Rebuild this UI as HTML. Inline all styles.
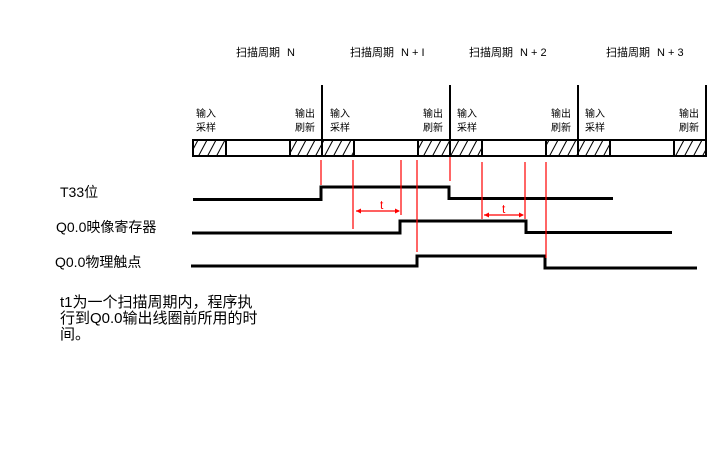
<!DOCTYPE html>
<html><head><meta charset="utf-8"><style>
html,body{margin:0;padding:0;background:#fff;width:720px;height:450px;overflow:hidden}
text{font-family:"Liberation Sans","WenQuanYi Zen Hei","Noto Sans CJK SC",sans-serif;fill:#000}
</style></head><body>
<svg width="720" height="450" viewBox="0 0 720 450" xmlns="http://www.w3.org/2000/svg">
<defs>
<pattern id="h" patternUnits="userSpaceOnUse" width="9" height="17" x="0" y="140">
<line x1="0" y1="17" x2="9" y2="0" stroke="#000" stroke-width="1"/>
</pattern>
</defs>
<!-- titles -->
<g font-size="11">
<text x="236" y="56">扫描周期</text><text x="287" y="56">N</text>
<text x="350" y="56">扫描周期</text><text x="401" y="56">N + I</text>
<text x="469" y="56">扫描周期</text><text x="520" y="56">N + 2</text>
<text x="606" y="56">扫描周期</text><text x="657" y="56">N + 3</text>
</g>
<!-- dividers -->
<g stroke="#000" stroke-width="2">
<line x1="322" y1="85" x2="322" y2="140"/>
<line x1="450" y1="85" x2="450" y2="140"/>
<line x1="578" y1="85" x2="578" y2="140"/>
<line x1="706" y1="85" x2="706" y2="140"/>
</g>
<!-- small labels -->
<g font-size="10">
<text x="196" y="117">输入</text><text x="196" y="131">采样</text>
<text x="295" y="117">输出</text><text x="295" y="131">刷新</text>
<text x="330" y="117">输入</text><text x="330" y="131">采样</text>
<text x="423" y="117">输出</text><text x="423" y="131">刷新</text>
<text x="457" y="117">输入</text><text x="457" y="131">采样</text>
<text x="551" y="117">输出</text><text x="551" y="131">刷新</text>
<text x="585" y="117">输入</text><text x="585" y="131">采样</text>
<text x="679" y="117">输出</text><text x="679" y="131">刷新</text>
</g>
<!-- bar -->
<g fill="url(#h)">
<rect x="193" y="140" width="33" height="16"/>
<rect x="290" y="140" width="64" height="16"/>
<rect x="418" y="140" width="64" height="16"/>
<rect x="546" y="140" width="64" height="16"/>
<rect x="674" y="140" width="32" height="16"/>
</g>
<rect x="193" y="140" width="513" height="16" fill="none" stroke="#000" stroke-width="2"/>
<g stroke="#000" stroke-width="2">
<line x1="226" y1="140" x2="226" y2="156"/>
<line x1="290" y1="140" x2="290" y2="156"/>
<line x1="322" y1="140" x2="322" y2="156"/>
<line x1="354" y1="140" x2="354" y2="156"/>
<line x1="418" y1="140" x2="418" y2="156"/>
<line x1="450" y1="140" x2="450" y2="156"/>
<line x1="482" y1="140" x2="482" y2="156"/>
<line x1="546" y1="140" x2="546" y2="156"/>
<line x1="578" y1="140" x2="578" y2="156"/>
<line x1="610" y1="140" x2="610" y2="156"/>
<line x1="674" y1="140" x2="674" y2="156"/>
</g>
<!-- waveforms -->
<g stroke="#000" stroke-width="3" fill="none">
<polyline points="193,199.5 321,199.5 321,187 449,187 449,198.5 613,198.5"/>
<polyline points="192,233 400,233 400,221 526,221 526,232.5 672,232.5"/>
<polyline points="191,266 417,266 417,256 545,256 545,268 697,268"/>
</g>
<!-- red lines -->
<g stroke="#f00" stroke-width="1.2">
<line x1="321" y1="160" x2="321" y2="185"/>
<line x1="353" y1="160" x2="353" y2="229"/>
<line x1="401" y1="160" x2="401" y2="215"/>
<line x1="417" y1="160" x2="417" y2="252"/>
<line x1="450" y1="157" x2="450" y2="181"/>
<line x1="482" y1="162" x2="482" y2="219"/>
<line x1="525" y1="162" x2="525" y2="219"/>
<line x1="546" y1="162" x2="546" y2="258"/>
<line x1="356" y1="211" x2="399" y2="211"/>
<line x1="484" y1="215" x2="523" y2="215"/>
</g>
<g fill="#f00">
<polygon points="356,211 361,208.5 361,213.5"/>
<polygon points="400,211 395,208.5 395,213.5"/>
<polygon points="484,215 489,212.5 489,217.5"/>
<polygon points="524,215 519,212.5 519,217.5"/>
</g>
<text x="380" y="209" font-size="12" style="fill:#f00">t</text>
<text x="502" y="213" font-size="12" style="fill:#f00">t</text>
<!-- left labels -->
<g font-size="14">
<text x="60" y="197">T33位</text>
<text x="56" y="232">Q0.0映像寄存器</text>
<text x="55" y="267">Q0.0物理触点</text>
</g>
<g font-size="15">
<text x="60" y="307">t1为一个扫描周期内，程序执</text>
<text x="60" y="323">行到Q0.0输出线圈前所用的时</text>
<text x="60" y="339">间。</text>
</g>
</svg>
</body></html>
